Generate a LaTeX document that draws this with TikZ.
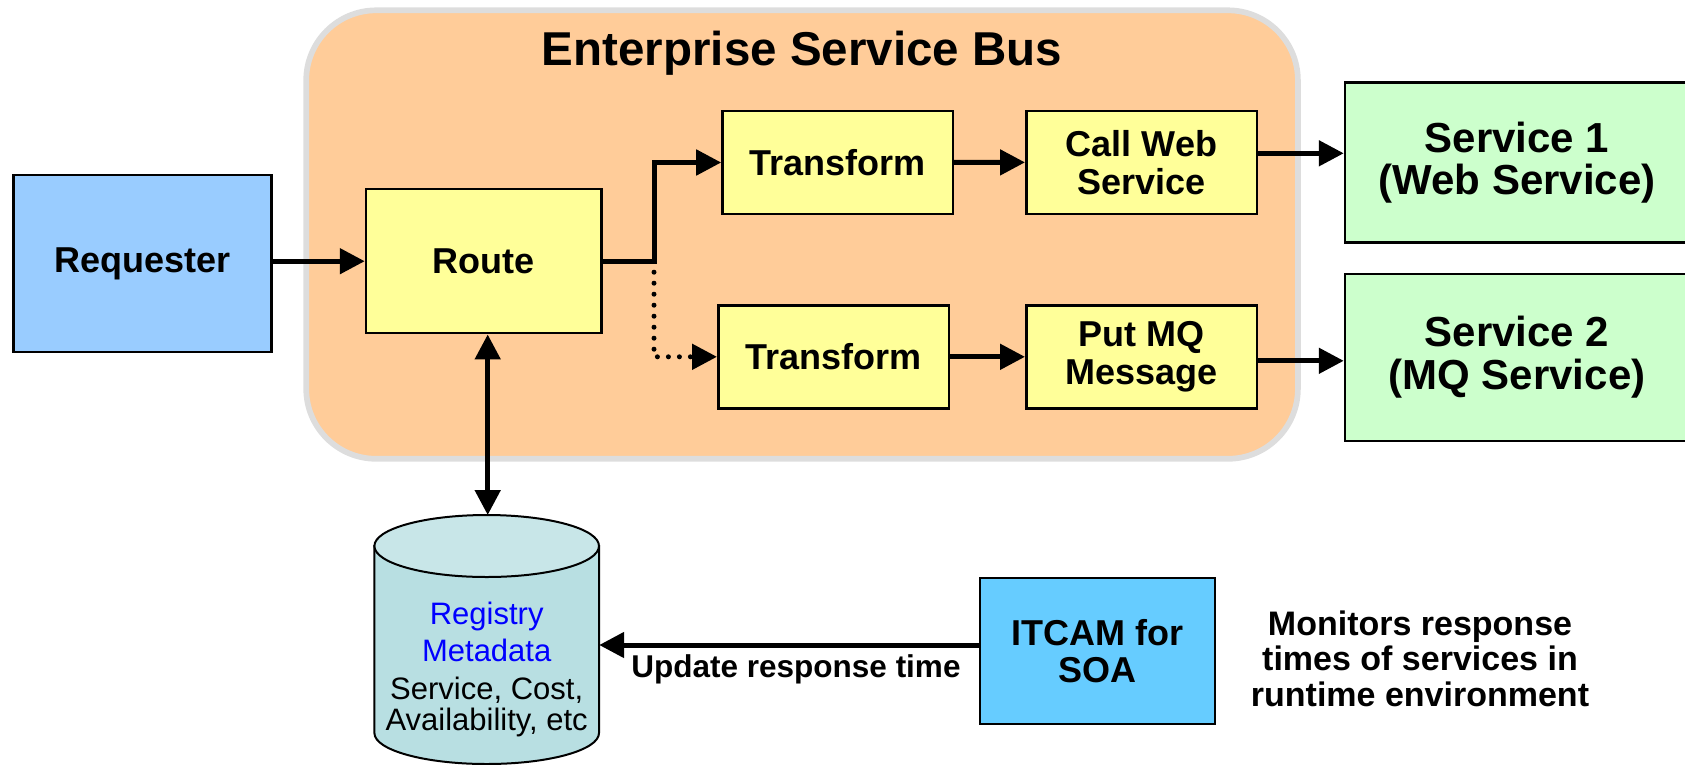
\documentclass[tikz,border=0pt]{standalone}
\usepackage{fontspec}
\setmainfont{Liberation Sans}
\usetikzlibrary{arrows.meta}

\definecolor{esbfill}{RGB}{255,204,153}
\definecolor{esbline}{RGB}{221,221,221}
\definecolor{stepyellow}{RGB}{255,255,153}
\definecolor{reqblue}{RGB}{153,204,255}
\definecolor{svcgreen}{RGB}{204,255,204}
\definecolor{itcamblue}{RGB}{102,204,255}
\definecolor{regtopfill}{RGB}{200,230,232}
\definecolor{regbodyfill}{RGB}{184,223,226}

\begin{document}
\begin{tikzpicture}[x=1pt,y=-1pt,>={Triangle[length=25pt,width=25pt]},
  box/.style={draw,line width=2.5pt,inner sep=0pt,align=center,
    font=\bfseries\fontsize{36}{37.7}\selectfont},
  stepbox/.style={box,fill=stepyellow,minimum width=230.5pt,minimum height=103pt},
  svcbox/.style={box,fill=svcgreen,minimum width=344pt,
    font=\bfseries\fontsize{42}{42.7}\selectfont},
  flow/.style={->,line width=5pt},
  dots/.style={->,line width=5pt,line cap=round,dash pattern=on 0pt off 11pt}]
\useasboundingbox (0,0) rectangle (1685,764);

% the bus
\draw[esbline,line width=5.7pt,fill=esbfill,rounded corners=70pt] (306.2,10.3) rectangle (1297.9,458.8);
\node[anchor=base,font=\bfseries\fontsize{47.5}{50}\selectfont] (title) at (802,65.7) {Enterprise Service Bus};

\node[box,fill=reqblue,minimum width=258pt,minimum height=177pt] (requester) at (142.5,263.5) {Requester};
\node[box,fill=stepyellow,minimum width=235.6pt,minimum height=144pt] (route) at (483.8,261.2) {Route};

\foreach \n/\x/\y/\t in {trans1/837.7/162.5/Transform, trans2/833.5/356.8/Transform,
    callweb/1141.5/162.3/{Call Web\\Service}, putmq/1141.5/356.8/{Put MQ\\Message}} {%
  \node[stepbox] (\n) at (\x,\y) {\t};
}

\node[svcbox,minimum height=160pt] (service1) at (1517,162.5) {Service 1\\(Web Service)};
\node[svcbox,minimum height=167pt] (service2) at (1517,357.3) {Service 2\\(MQ Service)};

% registry
\draw[line width=2pt,fill=regbodyfill] (374.4,546) -- (374.4,733)
  .. controls (374.4,750.1) and (424.7,764) .. (486.7,764)
  .. controls (548.7,764) and (599,750.1) .. (599,733) -- (599,546) -- cycle;
\draw[line width=2pt,fill=regtopfill] (486.7,546) ellipse [x radius=112.3, y radius=31];
\coordinate (regtop) at (487.7,515);
\node[inner sep=0pt,align=center,minimum width=224.6pt,font=\fontsize{31}{37.5}\selectfont] (registry) at (486.7,669.5)
  {\textcolor{blue}{Registry}\\\textcolor{blue}{Metadata}\\Service, Cost,\\[-6pt]Availability, etc};

\node[box,fill=itcamblue,minimum width=235pt,minimum height=146pt] (itcam) at (1097.5,651) {ITCAM for\\SOA};
\node[align=center,inner sep=0pt,font=\bfseries\fontsize{34}{35.5}\selectfont] (monitors) at (1420,658.5)
  {Monitors response\\times of services in\\runtime environment};

% connectors
\coordinate (branch) at (654,261.2);
\draw[flow] (requester.east |- route.east) -- (route.west);
\draw[flow] (route.east) -- (branch) |- (trans1.west);
\draw[dots] (branch) |- (trans2.west);
\draw[flow] (trans1) -- (callweb);
\draw[flow] (trans2) -- (putmq);
\draw[flow] ([yshift=9pt]callweb.east) -- ([yshift=9pt]callweb.east -| service1.west);
\draw[flow] ([yshift=-4pt]putmq.east) -- ([yshift=-4pt]putmq.east -| service2.west);
\draw[<->,line width=5pt] (regtop |- route.south) -- (regtop);
\draw[flow] ([yshift=6pt]itcam.west) -- ([yshift=6pt]itcam.west -| registry.east);
\node[anchor=base,font=\bfseries\fontsize{31.5}{33}\selectfont] (update) at (796,677) {Update response time};
\end{tikzpicture}
\end{document}
